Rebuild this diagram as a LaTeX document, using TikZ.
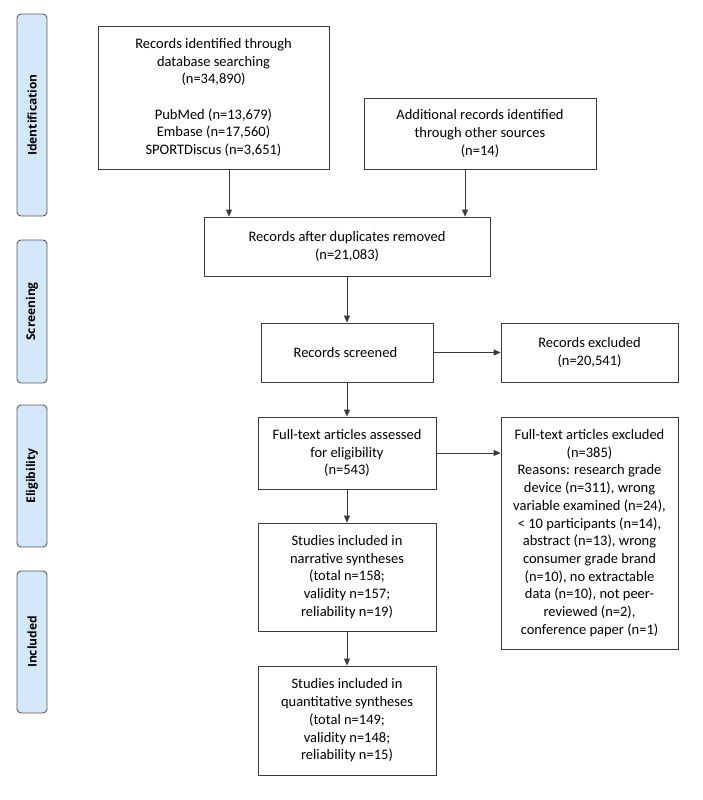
\documentclass[tikz,border=0pt]{standalone}
\usepackage{fontspec}
\setmainfont{Carlito}
\newfontfamily\phasefont{Open Sans}
\usetikzlibrary{arrows.meta,shapes,positioning}
\definecolor{phaseblue}{HTML}{D5E8FB}
\definecolor{boxline}{HTML}{3A3A3A}
\tikzstyle{arrow} = [-{Triangle[length=7pt,width=6pt]}, color = boxline, line width=0.8pt]
\tikzstyle{stdNode} = [shape = rectangle, draw = boxline, line width=0.8pt, align = center, inner sep = 0pt, font=\fontsize{14.5}{17.7}\selectfont]
\tikzstyle{phase} = [shape = rectangle, draw = black!65, line width=0.9pt, fill = phaseblue, rounded corners = 4pt, minimum height = 30pt, inner sep = 0pt, rotate = 90, font=\phasefont\bfseries\fontsize{12}{14}\selectfont]

\begin{document}
\begin{tikzpicture}[x=1pt, y=-1pt]
			\useasboundingbox (0,0) rectangle (703,800);
			% phases on the left
			\node (Ident) at (32,115) [phase, minimum width = 202pt] {Identification};
			\node (Screen) at (32,311.5) [phase, minimum width = 143pt] {Screening};
			\node (Elig) at (32,476) [phase, minimum width = 142pt] {Eligibility};
			\node (Incl) at (32,642) [phase, minimum width = 142pt] {Included};
			% boxes
			\node (dbRecords) at (213.5,97.5) [stdNode, minimum width = 231pt, minimum height = 143pt] {
				Records identified through\\database searching\\(n=34,890)\\[17.7pt]PubMed (n=13,679)\\Embase (n=17,560)\\SPORTDiscus (n=3,651)
			};
			\node (otherRecords) at (480,133.5) [stdNode, minimum width = 232pt, minimum height = 71pt] {
				Additional records identified\\through other sources\\(n=14)
			};
			\node (noDup) at (347,246.5) [stdNode, minimum width = 286pt, minimum height = 59pt] {
				Records after duplicates removed\\(n=21,083)
			};
			\node (screened) at (347,352.5) [stdNode, minimum width = 172pt, minimum height = 59pt] {
				Records screened
			};
			\node (excluded) at (589.5,352.5) [stdNode, minimum width = 177pt, minimum height = 59pt] {
				Records excluded\\(n=20,541)
			};
			\node (fullText) at (347,453) [stdNode, minimum width = 178pt, minimum height = 72pt] {
				Full-text articles assessed\\for eligibility\\(n=543)
			};
			\node (ftExcluded) at (589.5,533) [stdNode, minimum width = 177pt, minimum height = 232pt] {
				Full-text articles excluded\\(n=385)\\Reasons: research grade\\device (n=311), wrong\\variable examined (n=24),\\< 10 participants (n=14),\\abstract (n=13), wrong\\consumer grade brand\\(n=10), no extractable\\data (n=10), not peer-\\reviewed (n=2),\\conference paper (n=1)
			};
			\node (narrative) at (347,577) [stdNode, minimum width = 178pt, minimum height = 108pt] {
				Studies included in\\narrative syntheses\\(total n=158;\\validity n=157;\\reliability n=19)
			};
			\node (quantitative) at (347,720.5) [stdNode, minimum width = 178pt, minimum height = 109pt] {
				Studies included in\\quantitative syntheses\\(total n=149;\\validity n=148;\\reliability n=15)
			};
			% connectors
			\draw[arrow] ([xshift=15.5pt]dbRecords.south) -- ([xshift=15.5pt]dbRecords.south |- noDup.north);
			\draw[arrow] ([xshift=-15pt]otherRecords.south) -- ([xshift=-15pt]otherRecords.south |- noDup.north);
			\draw[arrow] (noDup.south) -- (screened.north);
			\draw[arrow] (screened.east) -- (excluded.west);
			\draw[arrow] (screened.south) -- (fullText.north);
			\draw[arrow] (fullText.east) -- (fullText.east -| ftExcluded.west);
			\draw[arrow] (fullText.south) -- (narrative.north);
			\draw[arrow] (narrative.south) -- (quantitative.north);
			\end{tikzpicture}
\end{document}
